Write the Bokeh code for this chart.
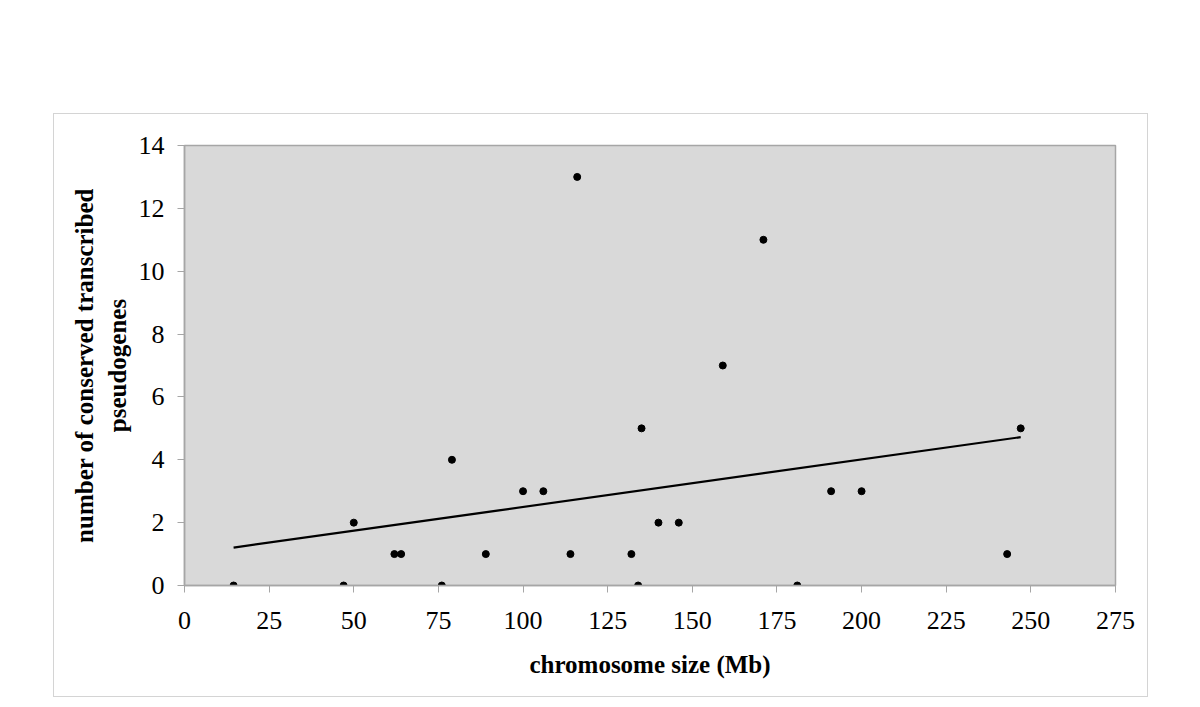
import numpy as np
from bokeh.plotting import figure
from bokeh.models import Range1d, FixedTicker
from bokeh.embed import file_html
from bokeh.resources import INLINE

# data (chromosome size in Mb, count)
chrom_size = [14.5, 47, 50, 62, 64, 76, 79, 89, 100, 106, 114, 116,
              132, 134, 135, 140, 146, 159, 171, 181, 191, 200, 243, 247]
pseudogenes = [0, 0, 2, 1, 1, 0, 4, 1, 3, 3, 1, 13,
               1, 0, 5, 2, 2, 7, 11, 0, 3, 3, 1, 5]
x_ticks = [0, 25, 50, 75, 100, 125, 150, 175, 200, 225, 250, 275]
y_ticks = [0, 2, 4, 6, 8, 10, 12, 14]

slope, intercept = np.polyfit(chrom_size, pseudogenes, 1)
trend_x = [min(chrom_size), max(chrom_size)]
trend_y = [intercept + slope * v for v in trend_x]

FONT = "Liberation Serif"
GRAY = "#a6a6a6"

p = figure(output_backend="svg", toolbar_location=None,
           frame_width=931, frame_height=440,
           min_border_left=130, min_border_right=32,
           min_border_top=31, min_border_bottom=111,
           x_range=Range1d(0, 275), y_range=Range1d(0, 14),
           background_fill_color="#d9d9d9", border_fill_color="white",
           outline_line_color=GRAY, outline_line_width=1.5,
           margin=(113, 0, 0, 53),
           styles={"border": "1px solid #d4d4d4"})

p.xgrid.visible = False
p.ygrid.visible = False

p.line(trend_x, trend_y, line_color="black", line_width=2.2)
p.scatter(chrom_size, pseudogenes, size=7, fill_color="black", line_color="black")

for ax in (p.xaxis[0], p.yaxis[0]):
    ax.axis_line_color = GRAY
    ax.axis_line_width = 1.5
    ax.major_tick_line_color = GRAY
    ax.major_tick_in = 0
    ax.major_tick_out = 7
    ax.minor_tick_line_color = None
    ax.major_label_text_font = FONT
    ax.major_label_text_font_size = "26px"
    ax.major_label_text_color = "black"
    ax.axis_label_text_font = FONT
    ax.axis_label_text_font_style = "bold"
    ax.axis_label_text_font_size = "25px"
    ax.axis_label_text_color = "black"

p.xaxis.ticker = FixedTicker(ticks=x_ticks)
p.yaxis.ticker = FixedTicker(ticks=y_ticks)
p.xaxis.major_label_standoff = 19
p.yaxis.major_label_standoff = 13
p.xaxis.axis_label = "chromosome size (Mb)"
p.yaxis.axis_label = "number of conserved transcribed\npseudogenes"
p.xaxis.axis_label_standoff = 19
p.yaxis.axis_label_standoff = 5

open("out.html", "w").write(file_html(p, INLINE))
